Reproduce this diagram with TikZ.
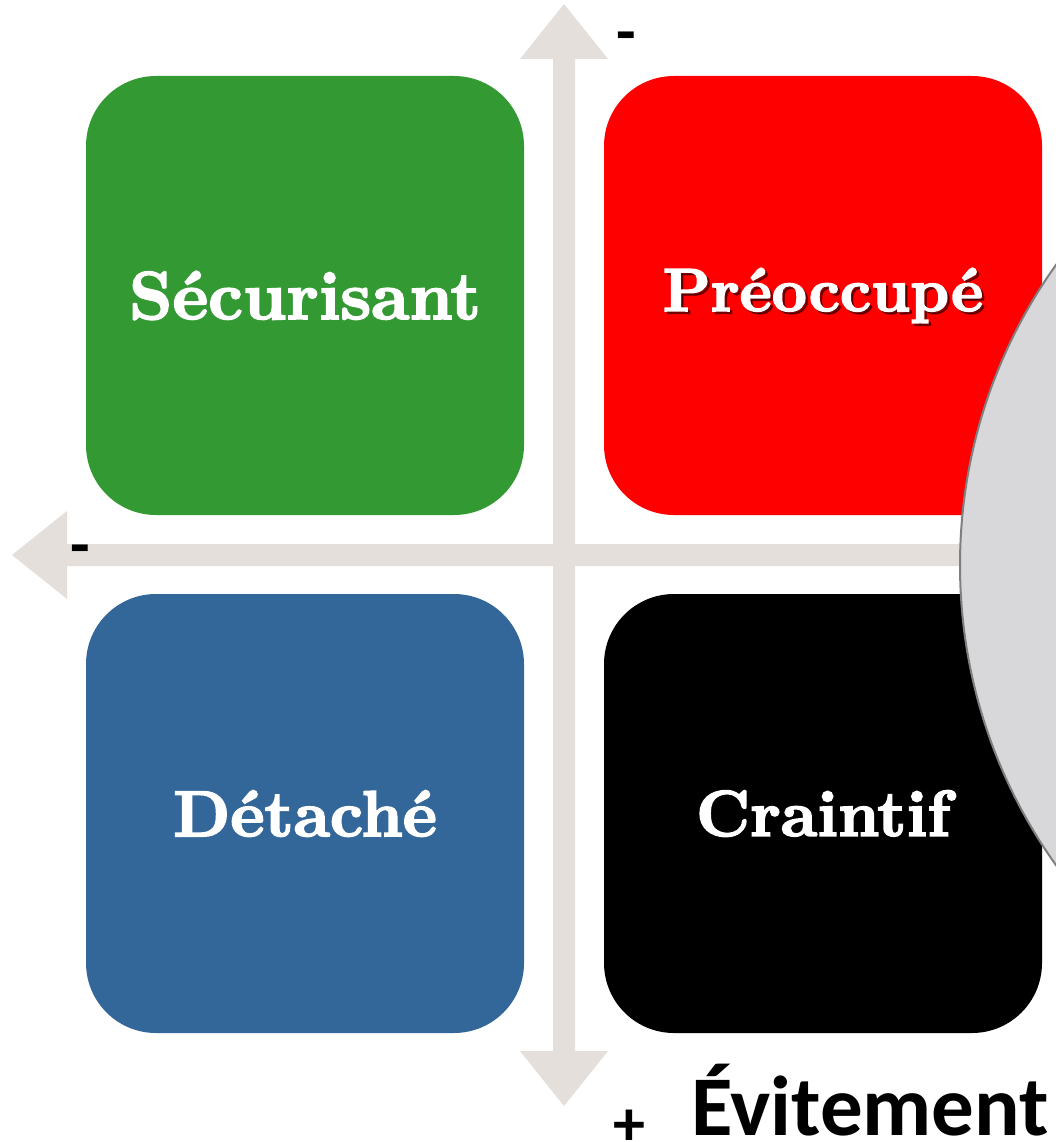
\documentclass[tikz,border=0pt]{standalone}
\usepackage{fontspec}
\newfontfamily\calfont{Carlito}
\newfontfamily\boxfont{lmroman10-bold.otf}[FakeBold=2.5]
\definecolor{cgreen}{RGB}{51,153,51}
\definecolor{cred}{RGB}{255,0,0}
\definecolor{cblue}{RGB}{52,103,153}
\definecolor{carrow}{RGB}{228,223,218}
\definecolor{ccircle}{RGB}{216,216,219}
\definecolor{cline}{RGB}{127,127,127}
\tikzset{
  quadbox/.style={rectangle, rounded corners=70pt, minimum width=438pt, minimum height=439pt, inner sep=0pt, text=white},
  boxtext/.style={inner sep=0pt, text=white},
  axisarrow/.style={fill=carrow, draw=none},
  signlbl/.style={font=\calfont\bfseries\fontsize{64}{64}\selectfont, inner sep=0pt, text=black, anchor=base, text depth=0pt},
}
\begin{document}
\begin{tikzpicture}[x=1pt,y=-1pt]
\useasboundingbox (0,0) rectangle (1056,1142);
% boxes
\node[quadbox, fill=cgreen] (sec) at (305,295.5) {};
\node[boxtext, font=\boxfont\fontsize{68}{70}\selectfont] (sectext) at (305,295.5) {Sécurisant};
\node[quadbox, fill=cred] (pre) at (823,295.5) {};
\node[text=black, opacity=0.45, font=\boxfont\fontsize{61}{63}\selectfont, inner sep=0pt] (preshadow) at (825.5,298) {Préoccupé};
\node[boxtext, font=\boxfont\fontsize{61}{63}\selectfont] (pretext) at (823,295.5) {Préoccupé};
\node[quadbox, fill=cblue] (det) at (305,813.5) {};
\node[boxtext, font=\boxfont\fontsize{65}{67}\selectfont] (dettext) at (305,813.5) {Détaché};
\node[quadbox, fill=black] (cra) at (823,813.5) {};
\node[boxtext, font=\boxfont\fontsize{65}{67}\selectfont] (cratext) at (823,813.5) {Craintif};
% vertical axis
\path[axisarrow] (564,4) coordinate (vtop) -- (608,59) -- (575,59) -- (575,1051) -- (608,1051) -- (564,1106) coordinate (vbot) -- (520,1051) -- (553,1051) -- (553,59) -- (520,59) -- cycle;
% horizontal axis
\path[axisarrow] (12,555) coordinate (hleft) -- (67,511) -- (67,544) -- (1000,544) coordinate (hright) -- (1000,566) -- (67,566) -- (67,599) -- cycle;
% circle
\draw[fill=ccircle, draw=cline, line width=2pt] (1477,565) circle[radius=517pt];
\coordinate (circ) at (1477,565);
% signs
\node[signlbl] (mtop) at (626,54) {-};
\node[signlbl] (mleft) at (80,566) {-};
\node[signlbl] (pbot) at (629,1145) {+};
\node[font=\calfont\bfseries\fontsize{85}{85}\selectfont, anchor=base west, inner sep=0pt, text depth=0pt] (evit) at (691,1135) {Évitement};
\end{tikzpicture}
\end{document}
